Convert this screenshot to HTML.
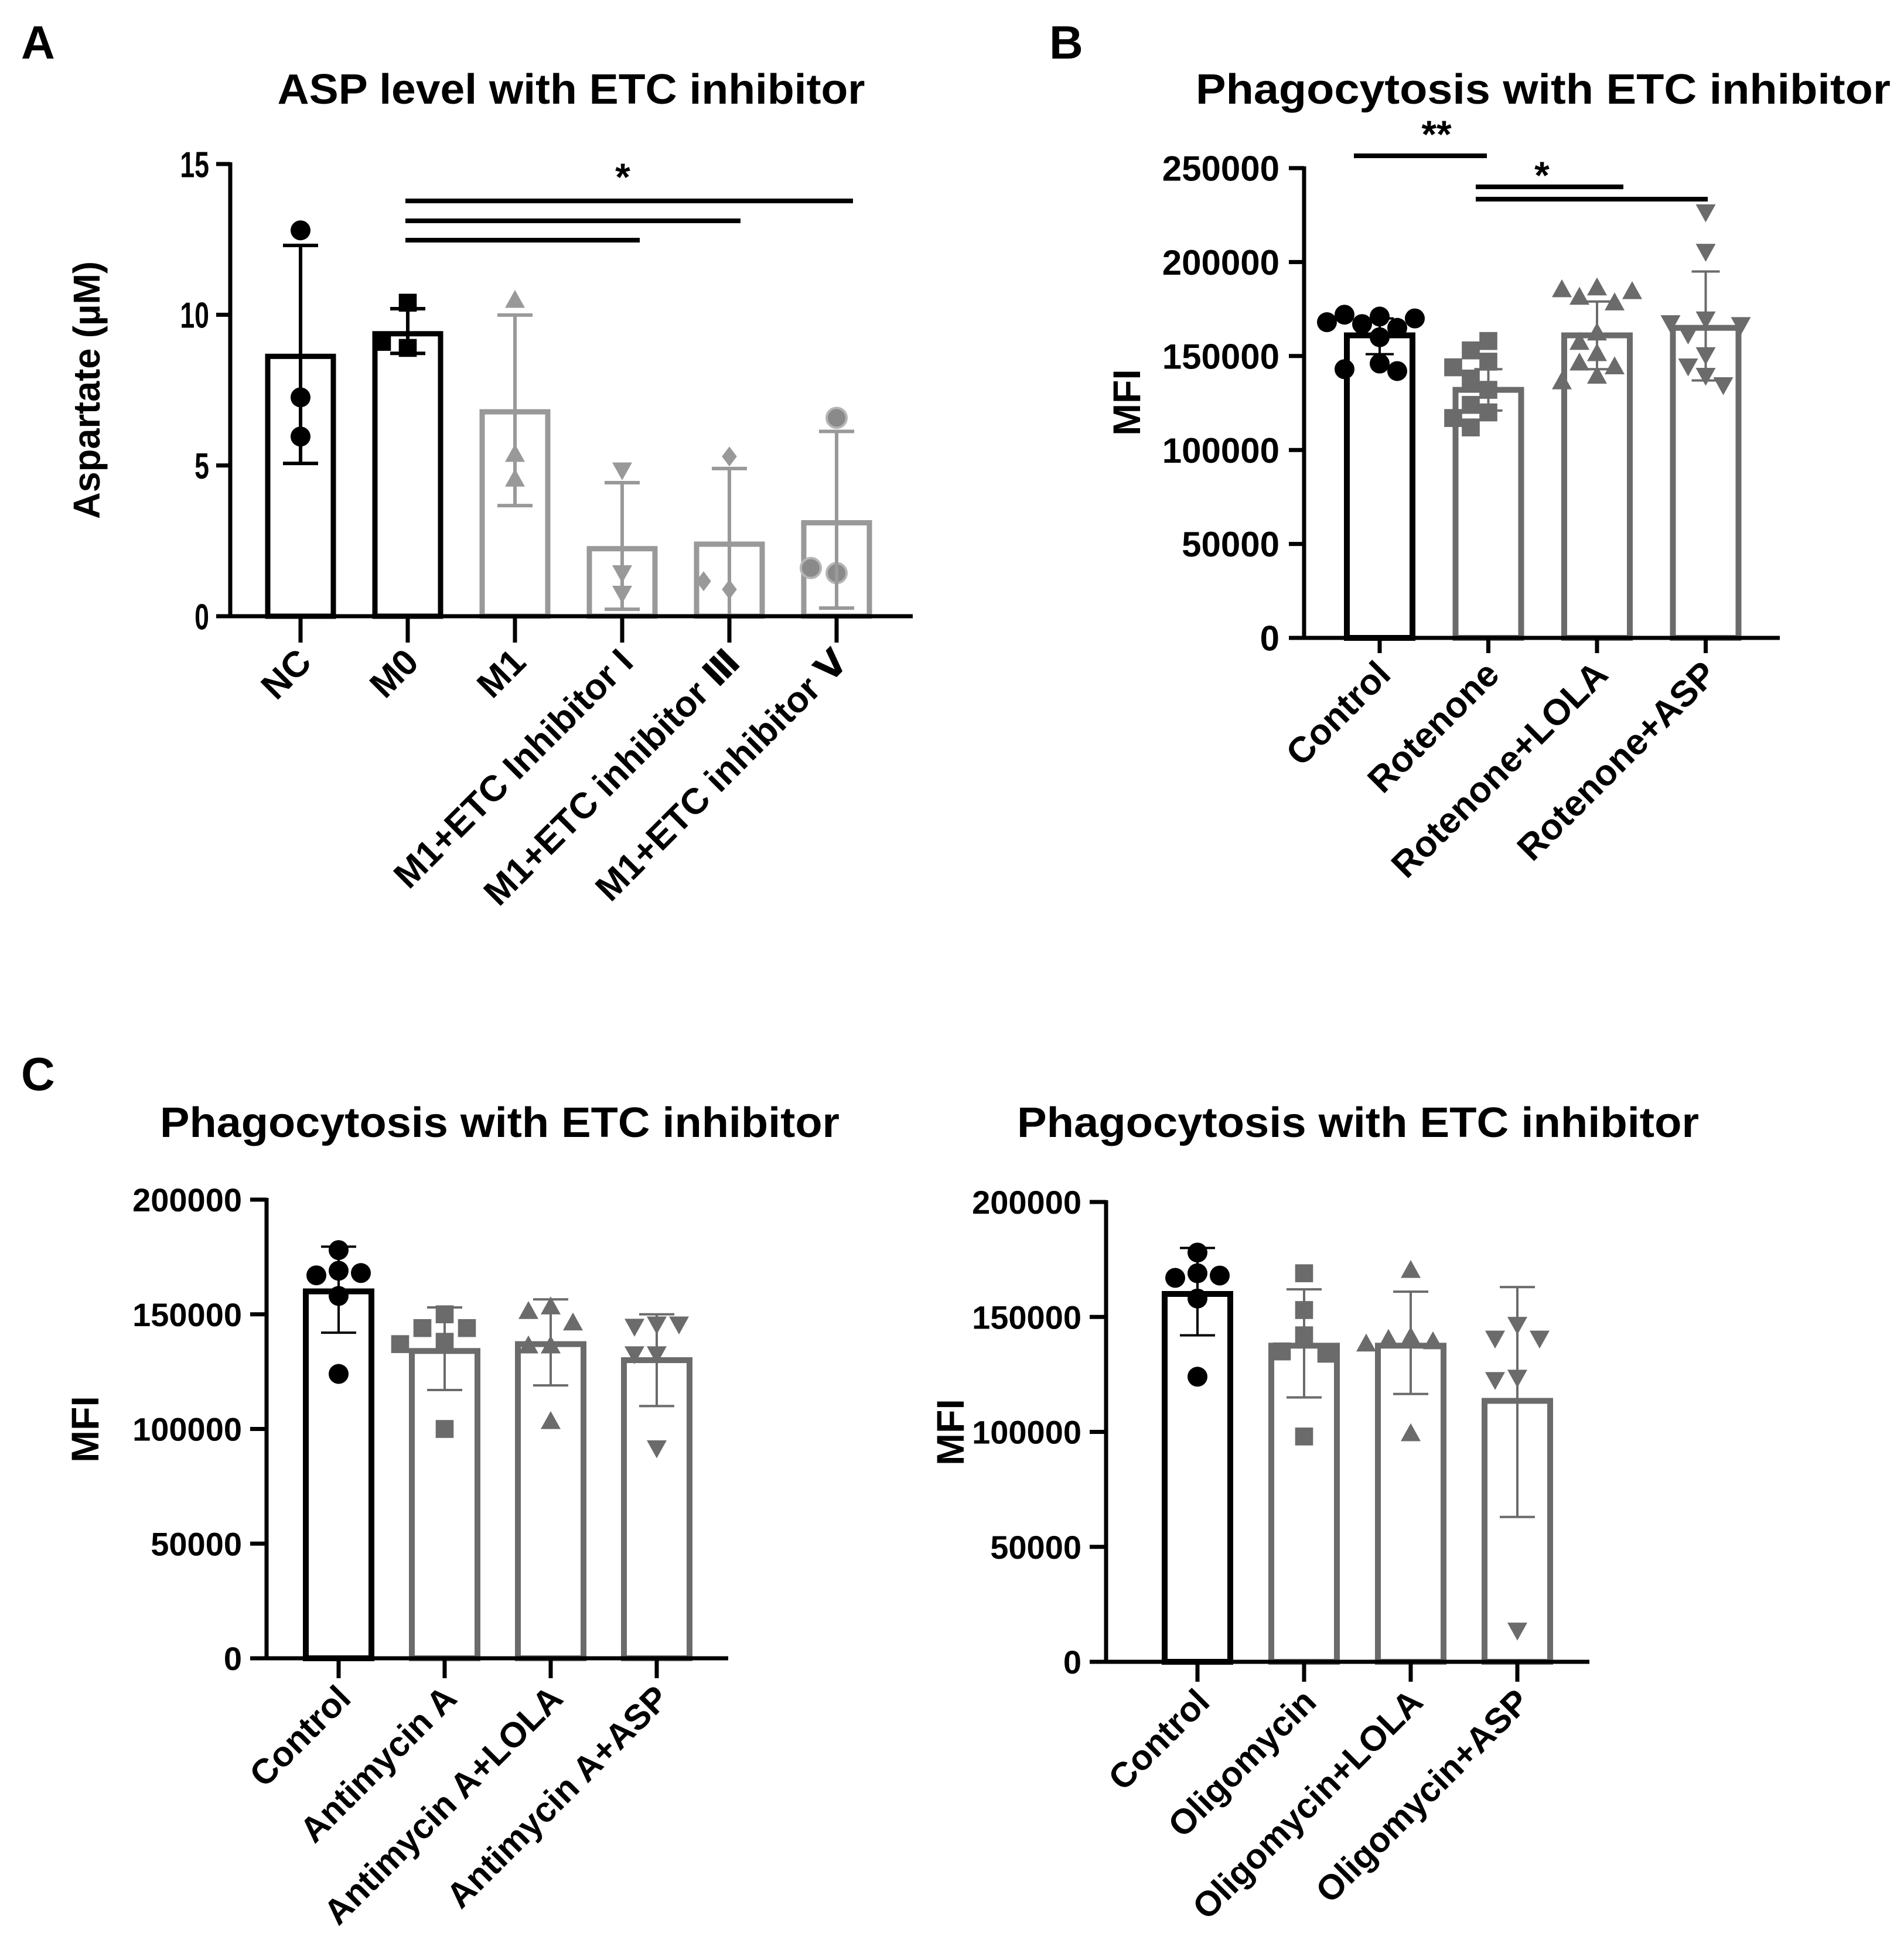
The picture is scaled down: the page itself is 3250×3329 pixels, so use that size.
<!DOCTYPE html>
<html><head><meta charset="utf-8"><title>ETC inhibitor figure</title>
<style>html,body{margin:0;padding:0;background:#fff}svg{display:block}text{font-family:"Liberation Sans","DejaVu Sans",sans-serif;font-weight:bold;fill:#000}</style>
</head><body>
<svg id="fig" xmlns="http://www.w3.org/2000/svg" width="3250" height="3329" viewBox="0 0 3250 3329">
<rect width="3250" height="3329" fill="#fff"/>
<text x="36" y="100" font-size="80">A</text>
<text x="1791" y="100" font-size="80">B</text>
<text x="36" y="1861" font-size="80">C</text>
<text x="975" y="177" font-size="72" text-anchor="middle" textLength="1003" lengthAdjust="spacingAndGlyphs">ASP level with ETC inhibitor</text>
<text x="2634" y="177" font-size="72" text-anchor="middle" textLength="1186" lengthAdjust="spacingAndGlyphs">Phagocytosis with ETC inhibitor</text>
<text x="853" y="1941" font-size="72" text-anchor="middle" textLength="1160" lengthAdjust="spacingAndGlyphs">Phagocytosis with ETC inhibitor</text>
<text x="2318" y="1941" font-size="72" text-anchor="middle" textLength="1164" lengthAdjust="spacingAndGlyphs">Phagocytosis with ETC inhibitor</text>
<text transform="translate(170,666) rotate(-90)" font-size="64" text-anchor="middle" textLength="440" lengthAdjust="spacingAndGlyphs">Aspartate (µM)</text>
<text transform="translate(1946,687) rotate(-90)" font-size="66" text-anchor="middle">MFI</text>
<text transform="translate(168,2440) rotate(-90)" font-size="66" text-anchor="middle">MFI</text>
<text transform="translate(1645,2445) rotate(-90)" font-size="66" text-anchor="middle">MFI</text>
<g>
<line x1="692" y1="343" x2="1456" y2="343" stroke="#000" stroke-width="8"/>
<line x1="692" y1="377" x2="1264" y2="377" stroke="#000" stroke-width="8"/>
<line x1="692" y1="410" x2="1092" y2="410" stroke="#000" stroke-width="8"/>
<text x="1063" y="325" font-size="66" text-anchor="middle">*</text>
</g>
<g>
<line x1="2311" y1="266" x2="2538" y2="266" stroke="#000" stroke-width="8"/>
<text x="2452" y="252" font-size="66" text-anchor="middle">**</text>
<line x1="2519" y1="319" x2="2771" y2="319" stroke="#000" stroke-width="8"/>
<line x1="2519" y1="340" x2="2915" y2="340" stroke="#000" stroke-width="8"/>
<text x="2632" y="322" font-size="66" text-anchor="middle">*</text>
</g>
</svg>
<script>
// ---- Panel A data ----
const aCategories = ["NC","M0","M1","M1+ETC Inhibitor I","M1+ETC inhibitor \u2162","M1+ETC inhibitor \u2164"];
const aMeans = [8.62, 9.37, 6.78, 2.24, 2.39, 3.1];
const aErrLow = [5.07, 8.72, 3.67, 0.23, 0.0, 0.27];
const aErrHigh = [12.3, 10.2, 9.99, 4.43, 4.9, 6.13];
const aPoints = [[12.8,7.26,5.96],[10.4,8.9,9.1],[10.46,5.35,4.53],[4.87,1.46,0.78],[5.3,0.89,1.16],[6.58,1.43,1.6]];
const aTicks = [0,5,10,15];
// ---- Panel B data ----
const bCategories = ["Control","Rotenone","Rotenone+LOLA","Rotenone+ASP"];
const bMeans = [161000,132000,161000,165000];
const bErrLow = [151000,121000,143000,137000];
const bErrHigh = [170000,143000,179000,195000];
const bPoints = [[171000,172000,170000,168000,167000,165000,160000,146000,143000,142000],
 [158000,153000,147000,144000,138000,132000,124000,120000,117000,112000],
 [186000,185000,184000,181000,178000,162000,157000,151000,146000,144000,139000,136000],
 [227000,206000,170000,168000,167000,162000,151000,145000,140000,135000]];
const bTicks = [0,50000,100000,150000,200000,250000];
// ---- Panel C left data ----
const cLCategories = ["Control","Antimycin A","Antimycin A+LOLA","Antimycin A+ASP"];
const cLMeans = [160000,134000,137000,130000];
const cLErrLow = [142000,117000,119000,110000];
const cLErrHigh = [179500,153000,156500,150000];
const cLPoints = [[178000,169000,167000,168000,158000,124000],[150000,144000,144000,138000,137000,100000],[153000,151000,146000,136000,136000,103000],[146000,145000,146000,133000,133000,92000]];
const cLTicks = [0,50000,100000,150000,200000];
// ---- Panel C right data ----
const cRCategories = ["Control","Oligomycin","Oligomycin+LOLA","Oligomycin+ASP"];
const cRMeans = [160000,137500,137500,113500];
const cRErrLow = [142000,115000,116500,63000];
const cRErrHigh = [180000,162000,161000,163000];
const cRPoints = [[178000,169000,167000,168000,158000,124000],[169000,153000,142000,135000,134000,98000],[170000,141000,140000,139000,138000,99000],[147000,141000,141000,124000,123000,14000]];
const cRTicks = [0,50000,100000,150000,200000];

const NS = "http://www.w3.org/2000/svg";
const svg = document.getElementById("fig");
function mk(tag, attrs, parent){
  const e = document.createElementNS(NS, tag);
  for (const k in attrs) e.setAttribute(k, attrs[k]);
  (parent||svg).appendChild(e);
  return e;
}
function marker(g, shape, x, y, s, fill, stroke){
  let e;
  if (shape==="circle"){ e = mk("circle",{cx:x,cy:y,r:s,fill:fill,stroke:stroke||"none","stroke-width":4},g); }
  else if (shape==="square"){ e = mk("rect",{x:x-s*0.9,y:y-s*0.9,width:s*1.8,height:s*1.8,fill:fill},g); }
  else if (shape==="up"){ e = mk("polygon",{points:`${x},${y-s*1.1} ${x-s},${y+s*0.7} ${x+s},${y+s*0.7}`,fill:fill},g); }
  else if (shape==="down"){ e = mk("polygon",{points:`${x},${y+s*1.1} ${x-s},${y-s*0.7} ${x+s},${y-s*0.7}`,fill:fill},g); }
  else { e = mk("polygon",{points:`${x},${y-s} ${x+s*0.75},${y} ${x},${y+s} ${x-s*0.75},${y}`,fill:fill},g); }
  
  
}
function swarm(vals, yS, r, d){
  const placed = [];
  const off = [];
  vals.forEach((v,i)=>{
    const y = yS(v);
    const cands = [0];
    for (let k=1;k<8;k++){ cands.push(-k*d, k*d); }
    let chosen = cands[cands.length-1];
    for (const c of cands){
      if (placed.every(p => Math.hypot(p[0]-c, p[1]-y) >= 2*r*0.95)) { chosen = c; break; }
    }
    placed.push([chosen,y]);
    off.push(chosen);
  });
  return off;
}
function drawPanel(name, cfg, cats, means, lo, hi, pts, ticks){
  const g = mk("g",{});
  
  
  const yS = v => cfg.yBase - (v/cfg.yTopVal)*(cfg.yBase-cfg.yTopPx);
  const xS = i => cfg.first + i*cfg.step;
  cats.forEach((c,i)=>{
    const col = cfg.colors[i];
    const hw = cfg.barW/2;
    const bar = mk("rect",{x:xS(i)-hw,y:yS(means[i]),width:cfg.barW,height:cfg.yBase-yS(means[i]),fill:"none",stroke:col,"stroke-width":cfg.barSW},g);
    
    
  });
  cats.forEach((c,i)=>{
    const off = swarm(pts[i], yS, cfg.mr, cfg.jd);
    pts[i].forEach((v,j)=>{
      marker(g, cfg.shapes[i], xS(i)+off[j], yS(v), cfg.mr, cfg.mcolors[i], cfg.mstroke ? cfg.mstroke[i] : null);
    });
  });
  cats.forEach((c,i)=>{
    const col = cfg.ecolors[i], x = xS(i), cw = cfg.capW;
    const eb = mk("path",{d:`M${x},${yS(lo[i])}V${yS(hi[i])}M${x-cw},${yS(hi[i])}H${x+cw}M${x-cw},${yS(lo[i])}H${x+cw}`,stroke:col,"stroke-width":cfg.eSW,fill:"none"},g);
    
    
  });
  const ya = mk("line",{x1:cfg.x0,y1:cfg.yTopPx-3,x2:cfg.x0,y2:cfg.yBase+3,stroke:"#000","stroke-width":cfg.axSW},g);
  
  
  const xa = mk("line",{x1:cfg.x0-cfg.tickLen,y1:cfg.yBase,x2:cfg.xEnd,y2:cfg.yBase,stroke:"#000","stroke-width":cfg.axSW},g);
  
  
  ticks.forEach(t=>{
    mk("line",{x1:cfg.x0-cfg.tickLen,y1:yS(t),x2:cfg.x0,y2:yS(t),stroke:"#000","stroke-width":cfg.axSW},g);
    const s = String(t);
    const attrs = {x:cfg.x0-cfg.labGap,y:yS(t)+cfg.yFont*0.36,"font-size":cfg.yFont,"text-anchor":"end"};
    if (cfg.yCond) { attrs.textLength = s.length*cfg.yFont*0.556*cfg.yCond; attrs.lengthAdjust="spacingAndGlyphs"; }
    const tl = mk("text",attrs,g);
    tl.textContent = s;
    
    
  });
  cats.forEach((c,i)=>{
    mk("line",{x1:xS(i),y1:cfg.yBase,x2:xS(i),y2:cfg.yBase+cfg.xTickLen,stroke:"#000","stroke-width":cfg.axSW},g);
    const lx = xS(i)+cfg.lab[0], ly = cfg.yBase+cfg.lab[1];
    const t = mk("text",{transform:`translate(${lx},${ly}) rotate(-45)`,"font-size":cfg.xFont,"text-anchor":"end"},g);
    t.textContent = c;
    
    
  });
}
const gA="#999999", gB="#6b6b6b";
drawPanel("chart-a",{x0:393,xEnd:1558,yBase:1052,yTopPx:280,yTopVal:15,first:513,step:183,barW:112,barSW:9,
  colors:["#000","#000",gA,gA,gA,gA], ecolors:["#000","#000",gA,gA,gA,gA], mcolors:["#000","#000",gA,gA,gA,"#8a8a8a"],
  mstroke:[null,null,null,null,null,"#b5b5b5"], shapes:["circle","square","up","down","diamond","circle"],
  mr:17,jd:44,capW:30,eSW:6,axSW:7,tickLen:24,xTickLen:45,labGap:36,yFont:62,yCond:0.72,xFont:62,lab:[22,82]},
  aCategories,aMeans,aErrLow,aErrHigh,aPoints,aTicks);
drawPanel("chart-b",{x0:2226,xEnd:3038,yBase:1089,yTopPx:287,yTopVal:250000,first:2355,step:185.5,barW:112,barSW:10,
  colors:["#000",gB,gB,gB], ecolors:["#000",gB,gB,gB], mcolors:["#000",gB,gB,gB], shapes:["circle","square","up","down"],
  mr:17,jd:30,capW:24,eSW:4,axSW:7,tickLen:26,xTickLen:26,labGap:42,yFont:60,xFont:62,lab:[22,66]},
  bCategories,bMeans,bErrLow,bErrHigh,bPoints,bTicks);
drawPanel("chart-c-left",{x0:455,xEnd:1243,yBase:2831,yTopPx:2048,yTopVal:200000,first:578,step:181,barW:112,barSW:10,
  colors:["#000",gB,gB,gB], ecolors:["#000",gB,gB,gB], mcolors:["#000",gB,gB,gB], shapes:["circle","square","up","down"],
  mr:17,jd:38,capW:30,eSW:4,axSW:7,tickLen:28,xTickLen:34,labGap:42,yFont:56,xFont:60,lab:[24,72]},
  cLCategories,cLMeans,cLErrLow,cLErrHigh,cLPoints,cLTicks);
drawPanel("chart-c-right",{x0:1888,xEnd:2713,yBase:2837,yTopPx:2052,yTopVal:200000,first:2044,step:182,barW:112,barSW:10,
  colors:["#000",gB,gB,gB], ecolors:["#000",gB,gB,gB], mcolors:["#000",gB,gB,gB], shapes:["circle","square","up","down"],
  mr:17,jd:38,capW:30,eSW:4,axSW:7,tickLen:28,xTickLen:34,labGap:42,yFont:56,xFont:60,lab:[24,72]},
  cRCategories,cRMeans,cRErrLow,cRErrHigh,cRPoints,cRTicks);
</script>
</body></html>
